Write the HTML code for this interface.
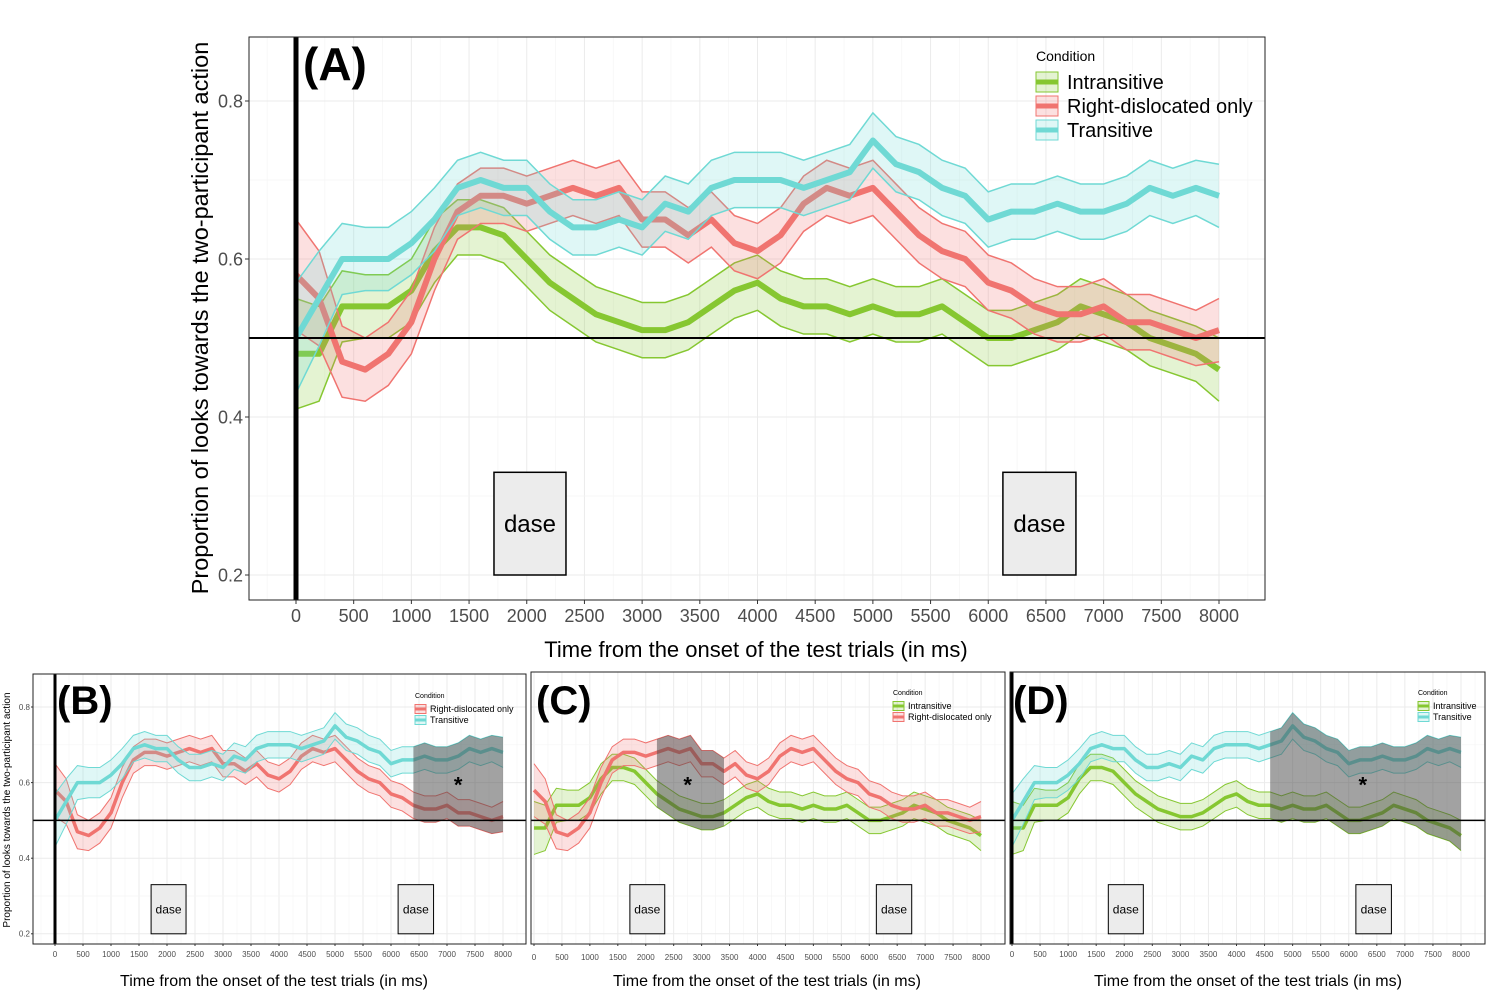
<!DOCTYPE html>
<html><head><meta charset="utf-8">
<style>
html,body{margin:0;padding:0;background:#fff;}
svg{display:block;font-family:"Liberation Sans",sans-serif;}
</style></head>
<body>
<svg id="fig" width="1489" height="1000" viewBox="0 0 1489 1000" xmlns="http://www.w3.org/2000/svg"></svg>
<script>
// ---- data (sampled every 200 ms, 0..8000) ----
const timesMs = [0,200,400,600,800,1000,1200,1400,1600,1800,2000,2200,2400,2600,2800,3000,3200,3400,3600,3800,4000,4200,4400,4600,4800,5000,5200,5400,5600,5800,6000,6200,6400,6600,6800,7000,7200,7400,7600,7800,8000];
const intransitive = [0.48,0.48,0.54,0.54,0.54,0.56,0.61,0.64,0.64,0.63,0.60,0.57,0.55,0.53,0.52,0.51,0.51,0.52,0.54,0.56,0.57,0.55,0.54,0.54,0.53,0.54,0.53,0.53,0.54,0.52,0.50,0.50,0.51,0.52,0.54,0.53,0.52,0.50,0.49,0.48,0.46];
const rightDislocated = [0.58,0.55,0.47,0.46,0.48,0.52,0.60,0.66,0.68,0.68,0.67,0.68,0.69,0.68,0.69,0.65,0.65,0.63,0.65,0.62,0.61,0.63,0.67,0.69,0.68,0.69,0.66,0.63,0.61,0.60,0.57,0.56,0.54,0.53,0.53,0.54,0.52,0.52,0.51,0.50,0.51];
const transitive = [0.50,0.55,0.60,0.60,0.60,0.62,0.65,0.69,0.70,0.69,0.69,0.66,0.64,0.64,0.65,0.64,0.67,0.66,0.69,0.70,0.70,0.70,0.69,0.70,0.71,0.75,0.72,0.71,0.69,0.68,0.65,0.66,0.66,0.67,0.66,0.66,0.67,0.69,0.68,0.69,0.68];
const ciHalf = [0.07,0.06,0.045,0.04,0.04,0.04,0.04,0.035,0.035,0.035,0.035,0.035,0.035,0.035,0.035,0.035,0.035,0.035,0.035,0.035,0.035,0.035,0.035,0.035,0.035,0.035,0.035,0.035,0.035,0.035,0.035,0.035,0.035,0.035,0.035,0.035,0.035,0.035,0.035,0.035,0.04];
const xTicks = [0,500,1000,1500,2000,2500,3000,3500,4000,4500,5000,5500,6000,6500,7000,7500,8000];
const yTicks = [0.2,0.4,0.6,0.8];
const daseWindows = [[1716,2340],[6127,6760]];

const COLORS = {
  Intransitive:{line:'#86c731',fill:'rgba(134,199,49,0.22)'},
  'Right-dislocated only':{line:'#f07470',fill:'rgba(240,116,112,0.22)'},
  Transitive:{line:'#6fd9d4',fill:'rgba(111,217,212,0.22)'}
};
const DATA = {Intransitive:intransitive,'Right-dislocated only':rightDislocated,Transitive:transitive};

const svg = document.getElementById('fig');
const NS = 'http://www.w3.org/2000/svg';
function mk(tag, attrs, parent){
  const e = document.createElementNS(NS, tag);
  for (const k in attrs) e.setAttribute(k, attrs[k]);
  (parent||svg).appendChild(e);
  return e;
}

function panel(cfg){
  const g = mk('g',{});
  
  
  const X = t => cfg.x0 + (t/8000)*(cfg.x8 - cfg.x0);
  const Y = v => cfg.y8 + (0.8 - v)*cfg.ys;
  const b = cfg.box;
  mk('rect',{x:b[0],y:b[1],width:b[2]-b[0],height:b[3]-b[1],fill:'#fff'},g);
  for (let t=-250;t<=8250;t+=250){
    const px = X(t); if (px<=b[0]||px>=b[2]) continue;
    mk('line',{x1:px,x2:px,y1:b[1],y2:b[3],stroke:(t%500===0)?'#ebebeb':'#f5f5f5','stroke-width':(t%500===0)?1:0.7},g);
  }
  for (let v=0.1;v<=0.95;v+=0.1){
    const py = Y(v); if (py<=b[1]||py>=b[3]) continue;
    const major = Math.abs(Math.round(v*10)%2)===0;
    mk('line',{x1:b[0],x2:b[2],y1:py,y2:py,stroke:major?'#ebebeb':'#f5f5f5','stroke-width':major?1:0.7},g);
  }
  daseWindows.forEach((w,i)=>{
    const r = mk('rect',{x:X(w[0]),y:Y(0.33),width:X(w[1])-X(w[0]),height:Y(0.2)-Y(0.33),fill:'#ececec',stroke:'#000','stroke-width':cfg.big?1.5:1},g);
    
    
    const tx = mk('text',{x:(X(w[0])+X(w[1]))/2,y:(Y(0.33)+Y(0.2))/2+cfg.daseFs*0.35,'font-size':cfg.daseFs,'text-anchor':'middle',fill:'#000'},g);
    tx.textContent='dase';
  });
  cfg.series.forEach(s=>{
    const vals = DATA[s], c = COLORS[s];
    let up='', lo='';
    vals.forEach((v,i)=>{ up += (i?'L':'M')+X(timesMs[i])+','+Y(v+ciHalf[i]); });
    for (let i=vals.length-1;i>=0;i--) lo += 'L'+X(timesMs[i])+','+Y(vals[i]-ciHalf[i]);
    const band = mk('path',{d:up+lo+'Z',fill:c.fill,stroke:'none'},g);
    
    
    let upL='',loL='',ln='';
    vals.forEach((v,i)=>{
      upL += (i?'L':'M')+X(timesMs[i])+','+Y(v+ciHalf[i]);
      loL += (i?'L':'M')+X(timesMs[i])+','+Y(v-ciHalf[i]);
      ln += (i?'L':'M')+X(timesMs[i])+','+Y(v);
    });
    mk('path',{d:upL,fill:'none',stroke:c.line,'stroke-width':cfg.big?1.5:1},g);
    mk('path',{d:loL,fill:'none',stroke:c.line,'stroke-width':cfg.big?1.5:1},g);
    const l = mk('path',{d:ln,fill:'none',stroke:c.line,'stroke-width':cfg.big?6:3.5,'stroke-linejoin':'round'},g);
    
    
  });
  if (cfg.shade){
    const [a,bb,t0,t1] = cfg.shade;
    const A = DATA[a], B = DATA[bb];
    let d='';
    const idx = timesMs.map((t,i)=>i).filter(i=>timesMs[i]>=t0&&timesMs[i]<=t1);
    idx.forEach((i,k)=>{ d += (k?'L':'M')+X(timesMs[i])+','+Y(A[i]+ciHalf[i]); });
    for (let k=idx.length-1;k>=0;k--){ const i=idx[k]; d += 'L'+X(timesMs[i])+','+Y(B[i]-ciHalf[i]); }
    const sh = mk('path',{d:d+'Z',fill:'rgba(70,70,70,0.5)'},g);
    
    
    const st = mk('text',{x:X((t0+t1)/2),y:Y(0.6)+10,'font-size':22,'font-weight':'bold','text-anchor':'middle'},g);
    st.textContent='*';
  }
  mk('line',{x1:b[0],x2:b[2],y1:Y(0.5),y2:Y(0.5),stroke:'#000','stroke-width':cfg.big?2:1.5},g);
  if (cfg.zeroLine) mk('line',{x1:X(0),x2:X(0),y1:b[1],y2:b[3],stroke:'#000','stroke-width':cfg.big?5:3},g);
  mk('rect',{x:b[0],y:b[1],width:b[2]-b[0],height:b[3]-b[1],fill:'none',stroke:'#222','stroke-width':1},g);
  xTicks.forEach(t=>{
    mk('line',{x1:X(t),x2:X(t),y1:b[3],y2:b[3]+(cfg.big?4:2),stroke:'#333'},g);
    const tx = mk('text',{x:X(t),y:b[3]+cfg.tickGap,'font-size':cfg.tickFs,'text-anchor':'middle',fill:'#4d4d4d'},g);
    tx.textContent = t;
  });
  if (cfg.yLabels){
    yTicks.forEach(v=>{
      mk('line',{x1:b[0]-(cfg.big?4:2),x2:b[0],y1:Y(v),y2:Y(v),stroke:'#333'},g);
      const tx = mk('text',{x:b[0]-(cfg.big?6:3),y:Y(v)+cfg.tickFs*0.35,'font-size':cfg.tickFs,'text-anchor':'end',fill:'#4d4d4d'},g);
      tx.textContent = v.toFixed(1);
    });
  }
  const xt = mk('text',{x:cfg.xTitle[0],y:cfg.xTitle[1],'font-size':cfg.xTitle[2],'text-anchor':'middle',fill:'#000'},g);
  
  
  xt.textContent='Time from the onset of the test trials (in ms)';
  if (cfg.yTitle){
    const yt = mk('text',{x:0,y:0,'font-size':cfg.yTitle[2],'text-anchor':'middle',fill:'#000',transform:`translate(${cfg.yTitle[0]},${cfg.yTitle[1]}) rotate(-90)`},g);
    
    
    yt.textContent='Proportion of looks towards the two-participant action';
  }
  const pl = mk('text',{x:cfg.letter[0],y:cfg.letter[1],'font-size':cfg.letter[2],'font-weight':'bold',fill:'#000'},g);
  
  
  pl.textContent=cfg.label;
  const L = cfg.legend;
  const lg = mk('g',{},g);
  
  
  const ct = mk('text',{x:L.x,y:L.y,'font-size':L.tfs,fill:'#000'},lg);
  ct.textContent='Condition';
  cfg.series.forEach((s,i)=>{
    const yy = L.y + L.first + i*L.step;
    const c = COLORS[s];
    mk('rect',{x:L.x,y:yy-L.kh/2,width:L.kw,height:L.kh,fill:c.fill,stroke:c.line,'stroke-width':1},lg);
    mk('line',{x1:L.x,x2:L.x+L.kw,y1:yy,y2:yy,stroke:c.line,'stroke-width':L.lw},lg);
    const t = mk('text',{x:L.x+L.kw+L.gap,y:yy+L.fs*0.35,'font-size':L.fs,fill:'#000'},lg);
    
    
    t.textContent=s;
  });
}

panel({name:'panel-a',big:true,label:'(A)',letter:[303,80,46],
  box:[249,37,1265,600],x0:296,x8:1219,y8:101,ys:790,
  series:['Intransitive','Right-dislocated only','Transitive'],
  tickFs:18,tickGap:22,yLabels:true,zeroLine:true,daseFs:24,
  xTitle:[756,657,22],yTitle:[208,318,23.5],
  legend:{x:1036,y:61,tfs:14,first:21,step:24,kw:22,kh:20,lw:5,fs:20,gap:9}});

const smallLeg = {y:698,tfs:7,first:11,step:11,kw:11,kh:9,lw:3,fs:9,gap:4};
panel({name:'panel-b',label:'(B)',letter:[57,714,40],
  box:[33,674,526,944],x0:55,x8:503,y8:707,ys:378,
  series:['Right-dislocated only','Transitive'],shade:['Transitive','Right-dislocated only',6400,8000],
  tickFs:8,tickGap:13,yLabels:true,zeroLine:true,daseFs:12,
  xTitle:[274,986,16],yTitle:[10,810,10],
  legend:Object.assign({x:415},smallLeg)});
panel({name:'panel-c',label:'(C)',letter:[536,714,40],
  box:[531,672,1005,944],x0:534,x8:981,y8:707,ys:378,
  series:['Intransitive','Right-dislocated only'],shade:['Right-dislocated only','Intransitive',2100,3400],
  tickFs:8,tickGap:16,yLabels:false,zeroLine:false,daseFs:12,
  xTitle:[767,986,16],
  legend:Object.assign({x:893},smallLeg,{y:695})});
panel({name:'panel-d',label:'(D)',letter:[1013,714,40],
  box:[1010,672,1485,944],x0:1012,x8:1461,y8:707,ys:378,
  series:['Intransitive','Transitive'],shade:['Transitive','Intransitive',4500,8000],
  tickFs:8,tickGap:13,yLabels:false,zeroLine:true,daseFs:12,
  xTitle:[1248,986,16],
  legend:Object.assign({x:1418},smallLeg,{y:695})});
</script>
</body></html>
